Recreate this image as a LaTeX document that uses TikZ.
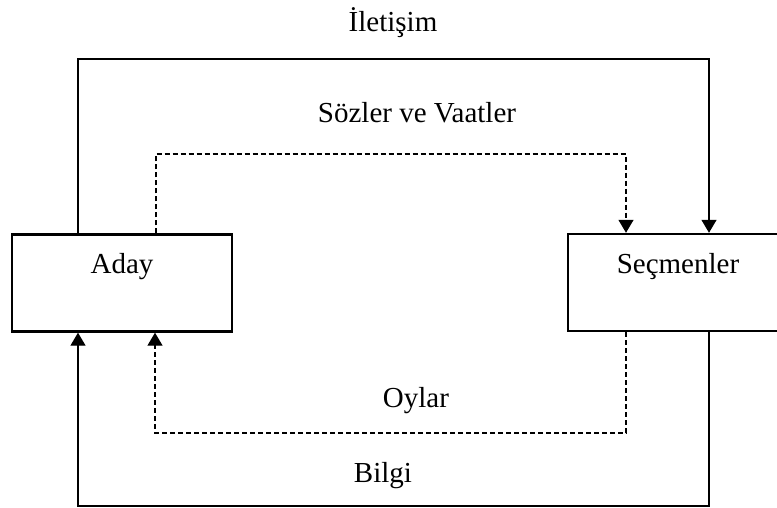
\documentclass[tikz,border=0pt]{standalone}
\usepackage{fontspec}
\setmainfont{Liberation Serif}
\usetikzlibrary{arrows.meta}
\begin{document}
\begin{tikzpicture}[x=1pt,y=-1pt,
  box/.style={draw=black, line width=2.4pt, rectangle, inner sep=0pt},
  lbl/.style={anchor=base, inner sep=0pt, font=\fontsize{29}{34}\selectfont},
  conn/.style={draw=black, line width=1.3pt, -{Triangle[length=13pt,width=15pt]}},
  dconn/.style={conn, dash pattern=on 5pt off 3pt}]
\useasboundingbox (0,0) rectangle (777,508);
\clip (0,0) rectangle (777,508);
% boxes
\node[box, minimum width=220pt, minimum height=97pt] (aday) at (122,283) {};
\node[box, minimum width=220pt, minimum height=97pt] (secmen) at (678,282.5) {};
% box texts
\node[lbl] (adaytxt) at (122,273) {Aday};
\node[lbl] (secmentxt) at (678,273) {Seçmenler};
% labels
\node[lbl] (iletisim) at (393,32) {İletişim};
\node[lbl] (sozler) at (417,123) {Sözler ve Vaatler};
\node[lbl] (oylar) at (416,407) {Oylar};
\node[lbl] (bilgi) at (383,482) {Bilgi};
% corner coordinates
\coordinate (t1) at (78,59);
\coordinate (t2) at (709,59);
\coordinate (d1) at (156,154);
\coordinate (d2) at (626,154);
\coordinate (d3) at (626,433);
\coordinate (d4) at (155,433);
\coordinate (b1) at (709,506);
\coordinate (b2) at (78,506);
% connectors
\draw[conn] (aday.north -| t1) -- (t1) -- (t2) -- (secmen.north -| t2);
\draw[dconn] (aday.north -| d1) -- (d1) -- (d2) -- (secmen.north -| d2);
\draw[dconn] (secmen.south -| d3) -- (d3) -- (d4) -- (aday.south -| d4);
\draw[conn] (secmen.south -| b1) -- (b1) -- (b2) -- (aday.south -| b2);
\end{tikzpicture}
\end{document}
